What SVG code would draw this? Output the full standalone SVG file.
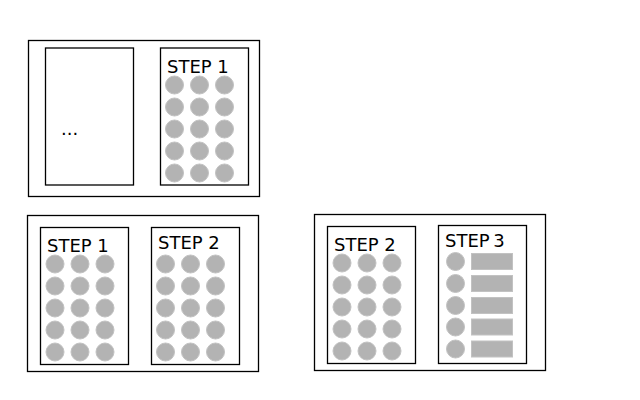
<svg xmlns="http://www.w3.org/2000/svg" width="640" height="400" viewBox="0 0 640 400">
<defs>
<style>
.box{fill:#fff;stroke:#000;stroke-width:1.3}
.dot{fill:#b3b3b3;stroke:#c2c2c2;stroke-width:1}
.bar{fill:#b3b3b3;stroke:#c2c2c2;stroke-width:1}
.t{font-family:"DejaVu Sans",sans-serif;font-size:18px;fill:#000}
</style>
<g id="dots3x5">
<circle class="dot" cx="0" cy="0" r="9"/><circle class="dot" cx="25" cy="0" r="9"/><circle class="dot" cx="50" cy="0" r="9"/>
<circle class="dot" cx="0" cy="22" r="9"/><circle class="dot" cx="25" cy="22" r="9"/><circle class="dot" cx="50" cy="22" r="9"/>
<circle class="dot" cx="0" cy="44" r="9"/><circle class="dot" cx="25" cy="44" r="9"/><circle class="dot" cx="50" cy="44" r="9"/>
<circle class="dot" cx="0" cy="66" r="9"/><circle class="dot" cx="25" cy="66" r="9"/><circle class="dot" cx="50" cy="66" r="9"/>
<circle class="dot" cx="0" cy="88" r="9"/><circle class="dot" cx="25" cy="88" r="9"/><circle class="dot" cx="50" cy="88" r="9"/>
</g>
</defs>
<rect width="640" height="400" fill="#fff"/>

<g id="panel-top">
<rect class="box" x="28.5" y="40.5" width="231" height="156"/>
<g id="node-ellipsis">
<rect class="box" x="45.5" y="48" width="88" height="137"/>
<text class="t" x="61" y="135">...</text>
</g>
<g id="node-top-step1">
<rect class="box" x="160.5" y="48" width="88" height="137"/>
<text class="t" x="167" y="73">STEP 1</text>
<use href="#dots3x5" x="174.5" y="85"/>
</g>
</g>

<g id="panel-bottom-left">
<rect class="box" x="27.5" y="215.5" width="231" height="156"/>
<g id="node-bl-step1">
<rect class="box" x="40.5" y="227.5" width="88" height="137"/>
<text class="t" x="47" y="252">STEP 1</text>
<use href="#dots3x5" x="55" y="264"/>
</g>
<g id="node-bl-step2">
<rect class="box" x="151.5" y="227.5" width="88" height="137"/>
<text class="t" x="158" y="249">STEP 2</text>
<use href="#dots3x5" x="165.5" y="264"/>
</g>
</g>

<g id="panel-bottom-right">
<rect class="box" x="314.5" y="214.5" width="231" height="156"/>
<g id="node-br-step2">
<rect class="box" x="327.5" y="226.5" width="88" height="137"/>
<text class="t" x="334" y="251">STEP 2</text>
<use href="#dots3x5" x="342" y="263"/>
</g>
<g id="node-br-step3">
<rect class="box" x="438.5" y="225.5" width="88" height="138"/>
<text class="t" x="445" y="247" word-spacing="-2">STEP 3</text>
<circle class="dot" cx="455.5" cy="261.5" r="9"/>
<circle class="dot" cx="455.5" cy="283.5" r="9"/>
<circle class="dot" cx="455.5" cy="305.5" r="9"/>
<circle class="dot" cx="455.5" cy="327" r="9"/>
<circle class="dot" cx="455.5" cy="349" r="9"/>
<rect class="bar" x="471.5" y="253.5" width="41" height="16"/>
<rect class="bar" x="471.5" y="275.5" width="41" height="16"/>
<rect class="bar" x="471.5" y="297.5" width="41" height="16"/>
<rect class="bar" x="471.5" y="319" width="41" height="16"/>
<rect class="bar" x="471.5" y="341" width="41" height="16"/>
</g>
</g>
<g id="connectors"/>
</svg>
